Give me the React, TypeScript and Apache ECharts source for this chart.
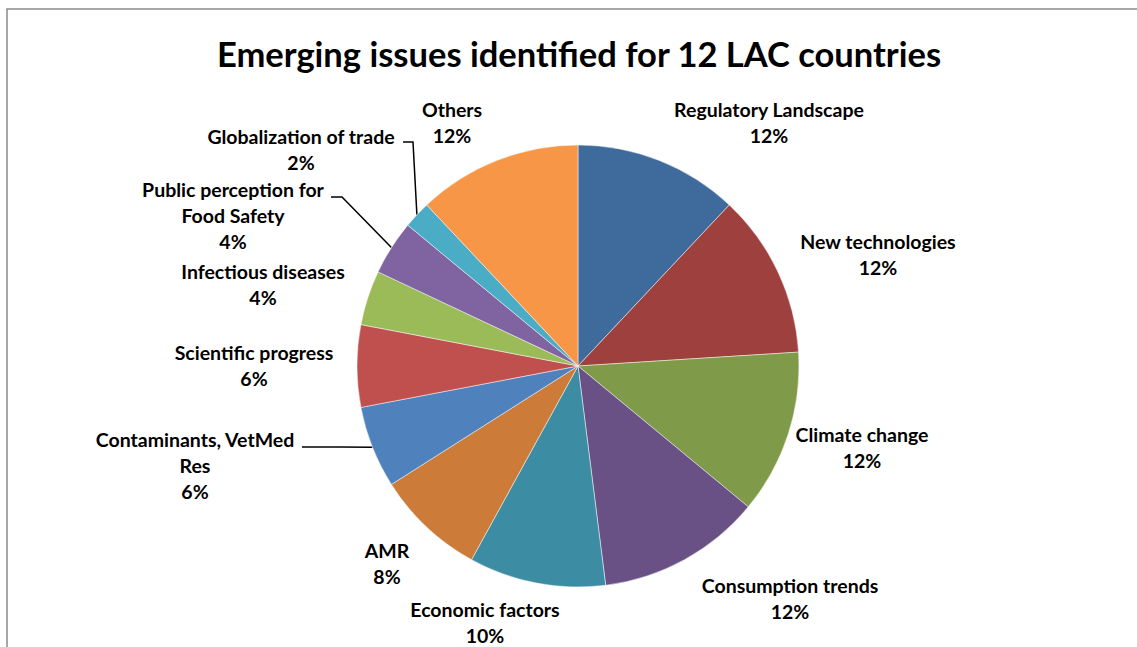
import React, { useEffect, useRef } from "react";
import * as echarts from "echarts";

const TITLE = "Emerging issues identified for 12 LAC countries";

const CATEGORIES = [
  "Regulatory Landscape",
  "New technologies",
  "Climate change",
  "Consumption trends",
  "Economic factors",
  "AMR",
  "Contaminants, VetMed Res",
  "Scientific progress",
  "Infectious diseases",
  "Public perception for Food Safety",
  "Globalization of trade",
  "Others",
];

const VALUES = [12, 12, 12, 12, 10, 8, 6, 6, 4, 4, 2, 12];

const COLORS = [
  "#3F6A9C",
  "#9E413E",
  "#7F9A48",
  "#695185",
  "#3C8DA3",
  "#CC7B38",
  "#4F81BD",
  "#C0504D",
  "#9BBB59",
  "#8064A2",
  "#4BACC6",
  "#F79646",
];

// wrapped label text as shown in the reference
const WRAPPED: Record<string, string> = {
  "Contaminants, VetMed Res": "Contaminants, VetMed\nRes",
  "Public perception for Food Safety": "Public perception for\nFood Safety",
};

// layout: centres of label blocks
const LABEL_POS: [number, number][] = [
  [769, 122],
  [878, 254],
  [862, 447],
  [790, 598],
  [485, 622],
  [387, 563],
  [195, 465],
  [254, 365],
  [263, 284],
  [233, 215],
  [301, 149],
  [452, 122],
];

// layout: text-side points of leader lines (pie-side point comes from the series)
const LEADERS: Record<number, [number, number][]> = {
  6: [
    [302, 447],
    [340, 447],
  ],
  9: [
    [331, 197],
    [342, 197],
  ],
  10: [
    [403, 142],
    [413, 142],
  ],
};

const FONT = "Lato, 'Open Sans', sans-serif";

export default function App() {
  const ref = useRef<HTMLDivElement>(null);

  useEffect(() => {
    if (!ref.current) return;
    const chart = echarts.init(ref.current, null, { renderer: "svg" });
    const cx = 578;
    const cy = 366;
    const r = 221;

    const data = CATEGORIES.map((name, i) => ({
      name,
      value: VALUES[i],
      itemStyle: { color: COLORS[i] },
      labelLine: { show: LEADERS[i] !== undefined },
    }));

    chart.setOption({
      animation: false,
      backgroundColor: "#ffffff",
      title: {
        text: TITLE,
        left: 574,
        textAlign: "center",
        top: 31,
        textStyle: {
          fontFamily: FONT,
          fontWeight: "bold",
          fontSize: 34.5,
          color: "#000000",
        },
      },
      graphic: [
        {
          type: "rect",
          silent: true,
          shape: { x: 7, y: 9, width: 1300, height: 800 },
          style: { fill: "none", stroke: "#8a8a8a", lineWidth: 1.5 },
        },
      ],
      series: [
        {
          type: "pie",
          center: [cx, cy],
          radius: r,
          startAngle: 90,
          clockwise: true,
          avoidLabelOverlap: false,
          data,
          itemStyle: { borderColor: "rgba(255,255,255,0.8)", borderWidth: 0.6 },
          label: {
            show: true,
            position: "outside",
            fontFamily: FONT,
            fontWeight: "bold",
            fontSize: 19.5,
            lineHeight: 26,
            color: "#000000",
            align: "center",
            formatter: (p: any) =>
              `${WRAPPED[p.name] ?? p.name}\n${Math.round(p.percent)}%`,
          },
          labelLine: {
            length: 10,
            length2: 10,
            lineStyle: { color: "#000000", width: 1.5 },
          },
          labelLayout: (params: any) => {
            const i = params.dataIndex;
            const [x, y] = LABEL_POS[i];
            const out: any = { x, y, align: "center", verticalAlign: "middle" };
            const lead = LEADERS[i];
            if (lead) {
              let anchor: number[];
              if (params.labelLinePoints && params.labelLinePoints[0]) {
                anchor = params.labelLinePoints[0];
              } else {
                anchor = [cx, cy];
              }
              out.labelLinePoints = [...lead, anchor];
            }
            return out;
          },
        },
      ],
    });

    return () => chart.dispose();
  }, []);

  return (
    <div
      ref={ref}
      style={{ position: "fixed", left: 0, top: 0, width: 1137, height: 647 }}
    />
  );
}
